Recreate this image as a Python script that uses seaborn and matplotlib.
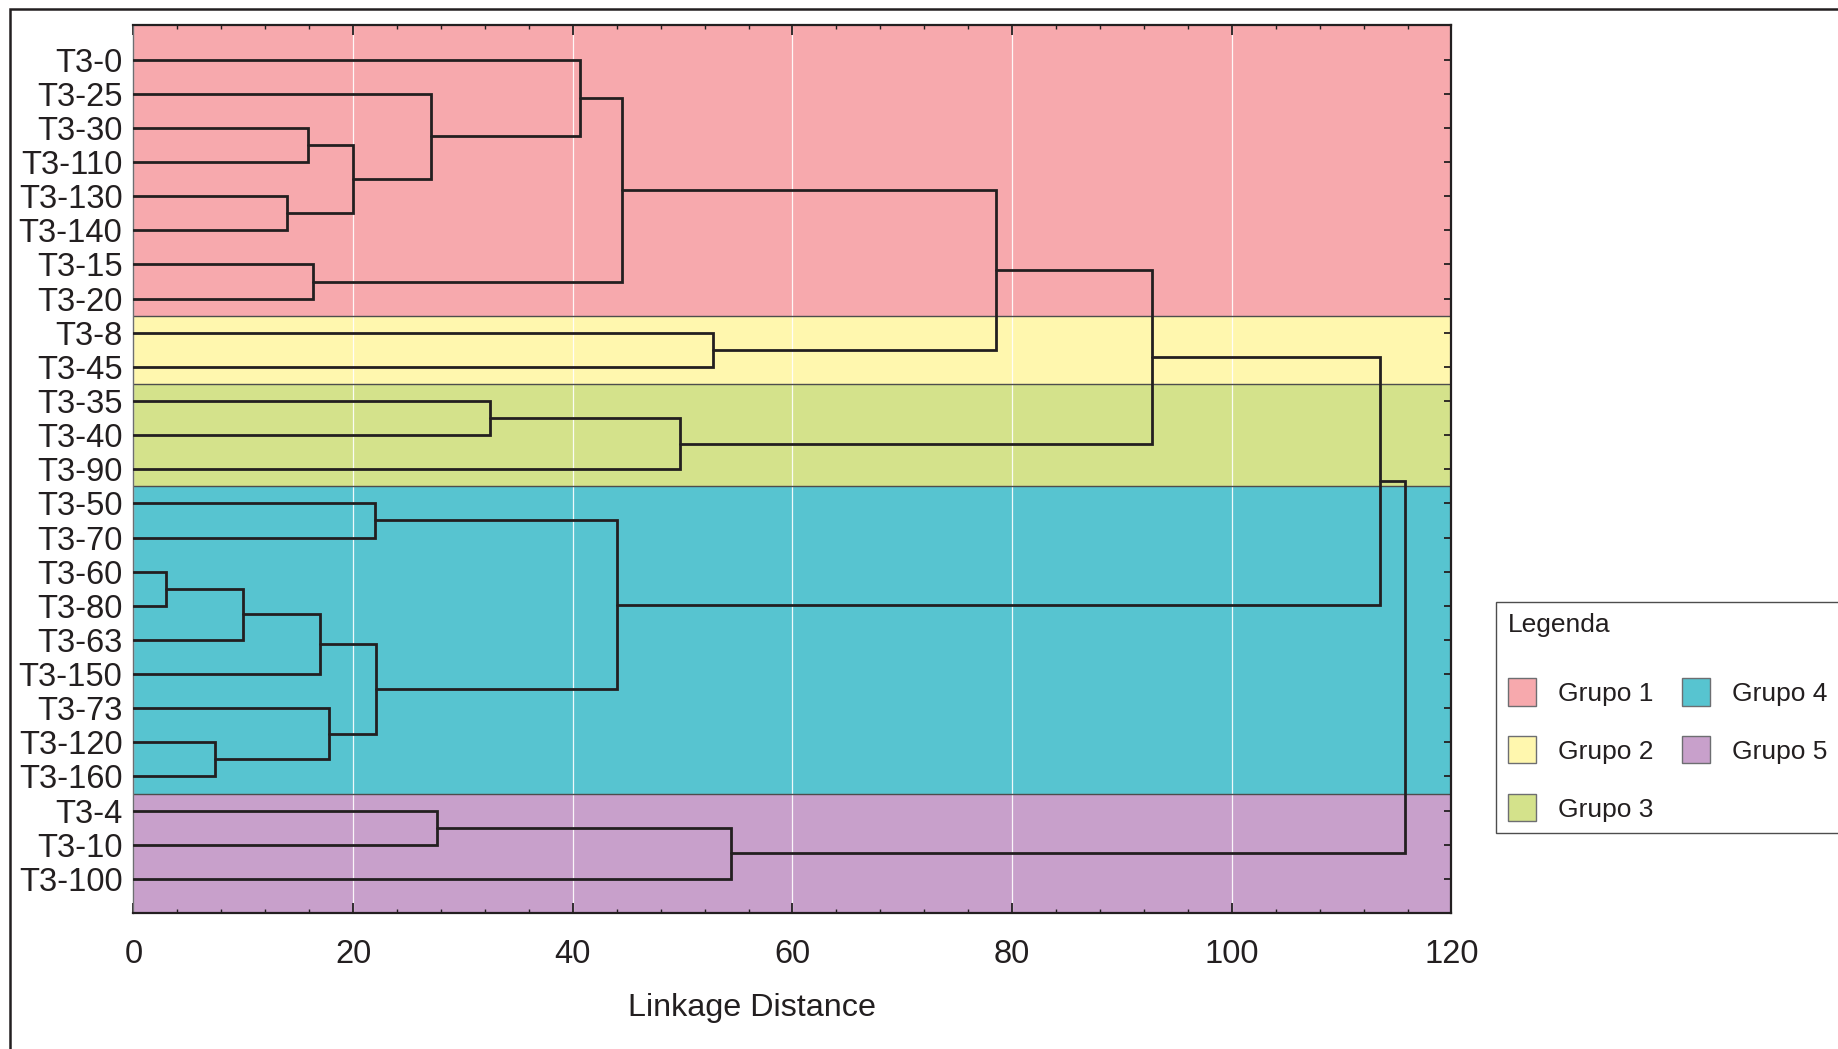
import matplotlib
matplotlib.use("Agg")
import matplotlib.pyplot as plt
from matplotlib.patches import Patch, Rectangle
from matplotlib.ticker import MultipleLocator
import numpy as np
import pandas as pd
import seaborn as sns

# Leaves in dendrogram order (top to bottom)
leaf_labels = ["T3-0", "T3-25", "T3-30", "T3-110", "T3-130", "T3-140", "T3-15",
               "T3-20", "T3-8", "T3-45", "T3-35", "T3-40", "T3-90", "T3-50",
               "T3-70", "T3-60", "T3-80", "T3-63", "T3-150", "T3-73", "T3-120",
               "T3-160", "T3-4", "T3-10", "T3-100"]

# Linkage steps: clusters a and b (leaf index, or 25 + step for a merged cluster)
merge_a = [15, 20, 25, 4, 2, 6, 27, 19, 29, 13, 31, 1, 22, 10, 0, 34, 39, 38, 8, 37, 41, 45, 46, 47]
merge_b = [16, 21, 17, 5, 3, 7, 18, 26, 28, 14, 32, 33, 23, 11, 36, 35, 30, 12, 9, 24, 43, 42, 40, 44]
merge_dist = [3.0, 7.4, 10.0, 14.0, 15.9, 16.3, 17.0, 17.8, 20.0, 22.0, 22.1, 27.1,
              27.6, 32.5, 40.65, 44.0, 44.5, 49.8, 52.8, 54.4, 78.5, 92.7, 113.5, 115.8]

group_names = ["Grupo 1", "Grupo 2", "Grupo 3", "Grupo 4", "Grupo 5"]
group_sizes = [8, 2, 3, 9, 3]
group_colors = ["#f7a9ad", "#fff7ae", "#d4e28b", "#57c4d0", "#c8a0cb"]

x_ticks = [0, 20, 40, 60, 80, 100, 120]

sns.set_theme(style="ticks")
plt.rcParams["font.family"] = ["Liberation Sans", "DejaVu Sans"]
INK = "#231f20"

# Build the U-shaped link segments of the dendrogram
n = len(leaf_labels)
pos = {i: i + 1.0 for i in range(n)}
hgt = {i: 0.0 for i in range(n)}
rows = []
for k, (a, b, d) in enumerate(zip(merge_a, merge_b, merge_dist)):
    cid = n + k
    ya, yb = pos[a], pos[b]
    for order, (x, y) in enumerate([(hgt[a], ya), (d, ya), (d, yb), (hgt[b], yb)]):
        rows.append({"link": cid, "step": order, "distance": x, "leaf_pos": y})
    pos[cid] = (ya + yb) / 2.0
    hgt[cid] = d
segments = pd.DataFrame(rows)

fig = plt.figure(figsize=(18.38, 10.49), dpi=100)
ax = fig.add_axes([0.07263, 0.12965, 0.71708, 0.84605])
ax.set_axisbelow(True)

# Group background bands
bounds = np.cumsum(group_sizes)
starts = [0.0] + [c + 0.5 for c in bounds[:-1]]
ends = [c + 0.5 for c in bounds[:-1]] + [n + 1.0]
for lo, hi, col in zip(starts, ends, group_colors):
    ax.axhspan(lo, hi, color=col, lw=0, zorder=0.2)
for b in ends[:-1]:
    ax.axhline(b, color="#4d4d4d", lw=1.0, zorder=0.6)

sns.lineplot(data=segments, x="distance", y="leaf_pos", units="link",
             estimator=None, sort=False, color=INK, lw=2.0, ax=ax,
             legend=False, zorder=3, solid_joinstyle="miter")

ax.set_xlim(0, 120)
ax.set_ylim(n + 1, 0)
ax.set_xticks(x_ticks)
ax.xaxis.set_minor_locator(MultipleLocator(4))
ax.set_yticks(np.arange(1, n + 1))
ax.set_yticklabels(leaf_labels)
ax.grid(axis="x", which="major", color="white", lw=0.9, alpha=0.9)
ax.grid(axis="y", visible=False)

ax.tick_params(axis="y", which="both", left=False, right=True, direction="in",
               length=5, width=1.3, color=INK, labelcolor=INK, labelsize=23.5, pad=8)
ax.tick_params(axis="x", which="major", top=True, bottom=True, direction="in",
               length=7, width=1.3, color=INK, labelcolor=INK, labelsize=23.5, pad=19)
ax.tick_params(axis="x", which="minor", top=True, bottom=True, direction="in",
               length=3, width=1.0, color=INK)

for s in ["top", "right", "bottom"]:
    ax.spines[s].set_linewidth(1.6)
    ax.spines[s].set_color(INK)
ax.spines["left"].set_linewidth(1.0)
ax.spines["left"].set_color("#6d6e71")

ax.set_ylabel("")
ax.set_xlabel("Linkage Distance", fontsize=23.3, color=INK)
ax.xaxis.set_label_coords(0.469, -0.090)

handles = [Patch(facecolor=c, edgecolor="#6d6e71", lw=1.0, label=g)
           for g, c in zip(group_names, group_colors)]
leg = fig.legend(handles=handles, ncol=2, title="Legenda", loc="upper left",
                 bbox_to_anchor=(1496 / 1838, 1 - 601.5 / 1049),
                 bbox_transform=fig.transFigure, frameon=True, fancybox=False,
                 framealpha=1, fontsize=19, title_fontsize=19, alignment="left",
                 handlelength=1.06, handleheight=1.21, handletextpad=0.83,
                 labelspacing=1.15, columnspacing=1.09, borderpad=0.45,
                 borderaxespad=0)
leg._legend_box.sep = 29.5
leg.get_frame().set_linewidth(1.0)
leg.get_frame().set_edgecolor("#4d4d4d")
for t in leg.get_texts():
    t.set_color(INK)
leg.get_title().set_color(INK)

# Outer frame around the figure
fig.add_artist(Rectangle((9.5 / 1838, -0.1), 1.2, 1.1 - 9.3 / 1049,
                         transform=fig.transFigure, fill=False, lw=1.8, ec=INK))

fig.savefig("out.png", dpi=100)
